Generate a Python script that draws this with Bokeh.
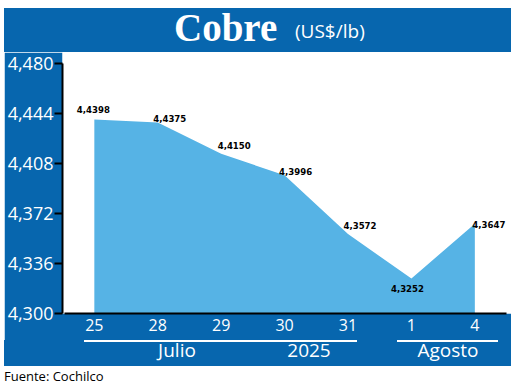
from bokeh.plotting import figure
from bokeh.models import (FixedTicker, CustomJSTickFormatter, Range1d, Div, ColumnDataSource)
from bokeh.layouts import column
from bokeh.core.properties import value
from bokeh.embed import file_html
from bokeh.resources import INLINE

# ---- data ----
days = ["25", "28", "29", "30", "31", "1", "4"]
prices = [4.4398, 4.4375, 4.4150, 4.3996, 4.3572, 4.3252, 4.3647]
price_labels = ["4,4398", "4,4375", "4,4150", "4,3996", "4,3572", "4,3252", "4,3647"]
y_ticks = [4.300, 4.336, 4.372, 4.408, 4.444, 4.480]
groups = ["Julio", "2025", "Agosto"]
title_main = "Cobre"
title_unit = "(US$/lb)"
source_note = "Fuente: Cochilco"

BLUE = "#0766AE"
AREA = "#56B3E5"
SANS = "Open Sans"
LABEL_FONT = "DejaVu Sans Condensed"

x = list(range(len(days)))

# ---- title bar ----
title_html = (
    f'<div style="position:relative;width:507px;height:44px;background:{BLUE};">'
    f'<span style="position:absolute;left:170px;top:0px;line-height:39px;font-size:39px;'
    f'font-family:\'Liberation Serif\';font-weight:bold;color:white;white-space:nowrap;">{title_main}</span>'
    f'<span style="position:absolute;left:291px;top:14px;line-height:19px;font-size:19px;'
    f'font-family:\'Open Sans\';color:white;white-space:nowrap;">{title_unit}</span>'
    '</div>'
)
title_div = Div(text=title_html, width=507, height=44, margin=(8, 0, 0, 4))

# ---- chart ----
p = figure(width=507, height=288, output_backend="svg", toolbar_location=None,
           x_range=Range1d(-0.502, 6.578), y_range=Range1d(4.3, 4.488),
           min_border_left=56, min_border_right=0, min_border_top=0, min_border_bottom=27,
           margin=(0, 0, 0, 4))
p.border_fill_color = BLUE
p.background_fill_color = "white"
p.outline_line_color = None
p.grid.visible = False

src = ColumnDataSource(dict(x=x, y=prices, lab=price_labels,
                            xo=[-1, 12, 13, 11, 12, -4, 14],
                            yo=[-6, -1, -5, 0, -5, 13, 4]))
p.varea(x="x", y1=4.3, y2="y", source=src, fill_color=AREA, fill_alpha=1)
p.text(x="x", y="y", text="lab", source=src, x_offset="xo", y_offset="yo",
       text_align="center", text_baseline="bottom", text_font=value(LABEL_FONT),
       text_font_style="bold", text_font_size="9.5px", text_color="black")

ya = p.yaxis[0]
ya.ticker = FixedTicker(ticks=y_ticks)
ya.formatter = CustomJSTickFormatter(code="return tick.toFixed(3).replace('.', ',');")
ya.bounds = (4.3, 4.48)
ya.axis_line_color = "black"
ya.axis_line_width = 2
ya.major_tick_line_color = "black"
ya.major_tick_line_width = 2
ya.major_tick_out = 8
ya.major_tick_in = 0
ya.minor_tick_line_color = None
ya.major_label_standoff = 1
ya.major_label_text_color = "white"
ya.major_label_text_font = SANS
ya.major_label_text_font_size = "18px"

xa = p.xaxis[0]
xa.ticker = FixedTicker(ticks=x)
xa.major_label_overrides = {i: d for i, d in enumerate(days)}
xa.bounds = (-0.47, 6.5)
xa.axis_line_color = "black"
xa.axis_line_width = 2
xa.major_tick_line_color = None
xa.major_tick_out = 0
xa.major_tick_in = 0
xa.minor_tick_line_color = None
xa.major_label_standoff = 5
xa.major_label_text_color = "white"
xa.major_label_text_font = SANS
xa.major_label_text_font_size = "16px"

# ---- group row (month / year) ----
group_centers = [173, 305, 444]
group_lines = [(80, 273), (393, 101)]
parts = [f'<div style="position:relative;width:507px;height:26px;background:{BLUE};">']
for l, w in group_lines:
    parts.append(f'<div style="position:absolute;left:{l}px;top:0px;width:{w}px;height:2px;background:white;"></div>')
for txt, cx in zip(groups, group_centers):
    parts.append(f'<span style="position:absolute;left:{cx}px;top:1px;transform:translateX(-50%);'
                 f'line-height:19px;font-size:19px;font-family:\'Open Sans\';color:white;white-space:nowrap;">{txt}</span>')
parts.append('</div>')
group_div = Div(text="".join(parts), width=507, height=26, margin=(0, 0, 0, 4))

foot = Div(text=f'<div style="position:relative;height:22px;"><span style="position:absolute;left:0px;top:4px;'
                f'line-height:13px;font-size:13px;font-family:\'Open Sans\';color:black;white-space:nowrap;">{source_note}</span></div>',
           width=507, height=22, margin=(0, 0, 0, 4))

layout = column(title_div, p, group_div, foot, spacing=0)
open("out.html", "w").write(file_html(layout, INLINE))
